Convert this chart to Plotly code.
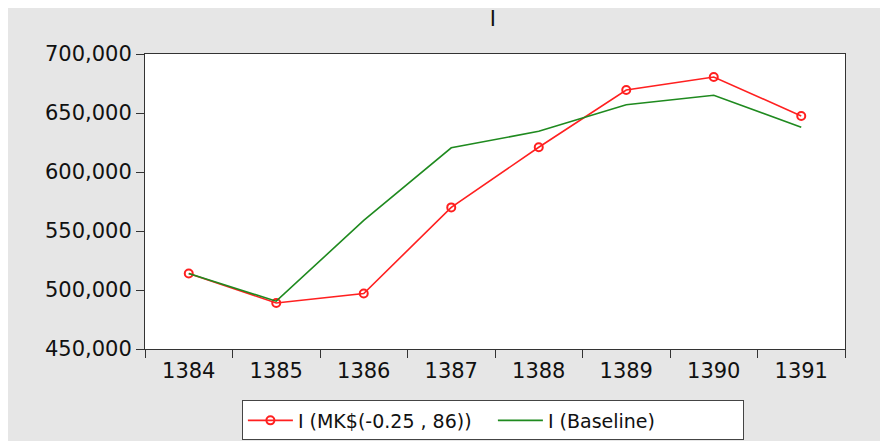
import plotly.graph_objects as go

years = ["1384", "1385", "1386", "1387", "1388", "1389", "1390", "1391"]
i_mk = [514000, 489000, 497000, 570000, 621000, 669500, 680500, 647500]
i_baseline = [514000, 490500, 559000, 620500, 634500, 657000, 665000, 638000]

font_size = 21
axis_color = "#333333"

fig = go.Figure()

fig.add_trace(go.Scatter(
    x=years, y=i_mk, name="I (MK$(-0.25 , 86))",
    mode="lines+markers",
    line=dict(color="#ff2020", width=1.6),
    marker=dict(symbol="circle-open", size=8, color="#ff2020", line=dict(width=2)),
))
fig.add_trace(go.Scatter(
    x=years, y=i_baseline, name="I (Baseline)",
    mode="lines",
    line=dict(color="#1f8a1f", width=1.6),
))

# the page body adds an 8px offset, so margins are shifted to compensate
fig.update_layout(
    width=888, height=441,
    margin=dict(l=137, r=51, t=46, b=100),
    paper_bgcolor="#e6e6e6",
    plot_bgcolor="white",
    font=dict(family="DejaVu Sans", size=font_size, color="#111111"),
    title=dict(text="I", x=0.546, xanchor="center",
               y=0.975, yref="container", yanchor="middle",
               font=dict(size=font_size)),
    showlegend=True,
    legend=dict(
        orientation="h", x=0.497, xanchor="center",
        y=0.11, yref="container", yanchor="top",
        bgcolor="white", bordercolor="#444444", borderwidth=1,
        font=dict(size=19), itemwidth=45,
        entrywidth=190, entrywidthmode="pixels",
    ),
    xaxis=dict(
        type="category", range=[-0.5, 7.5],
        showgrid=False, tickson="boundaries", ticks="outside", ticklen=8,
        tickcolor=axis_color, showline=True, linecolor=axis_color, linewidth=1,
        mirror=True, tickfont=dict(size=font_size), automargin=False,
        ticklabelstandoff=3,
    ),
    yaxis=dict(
        range=[450000, 700000], dtick=50000, tickformat=",",
        showgrid=False, zeroline=False, ticks="outside", ticklen=8,
        tickcolor=axis_color, showline=True, linecolor=axis_color, linewidth=1,
        mirror=True, tickfont=dict(size=font_size), automargin=False,
    ),
)

fig.write_html("out.html")
